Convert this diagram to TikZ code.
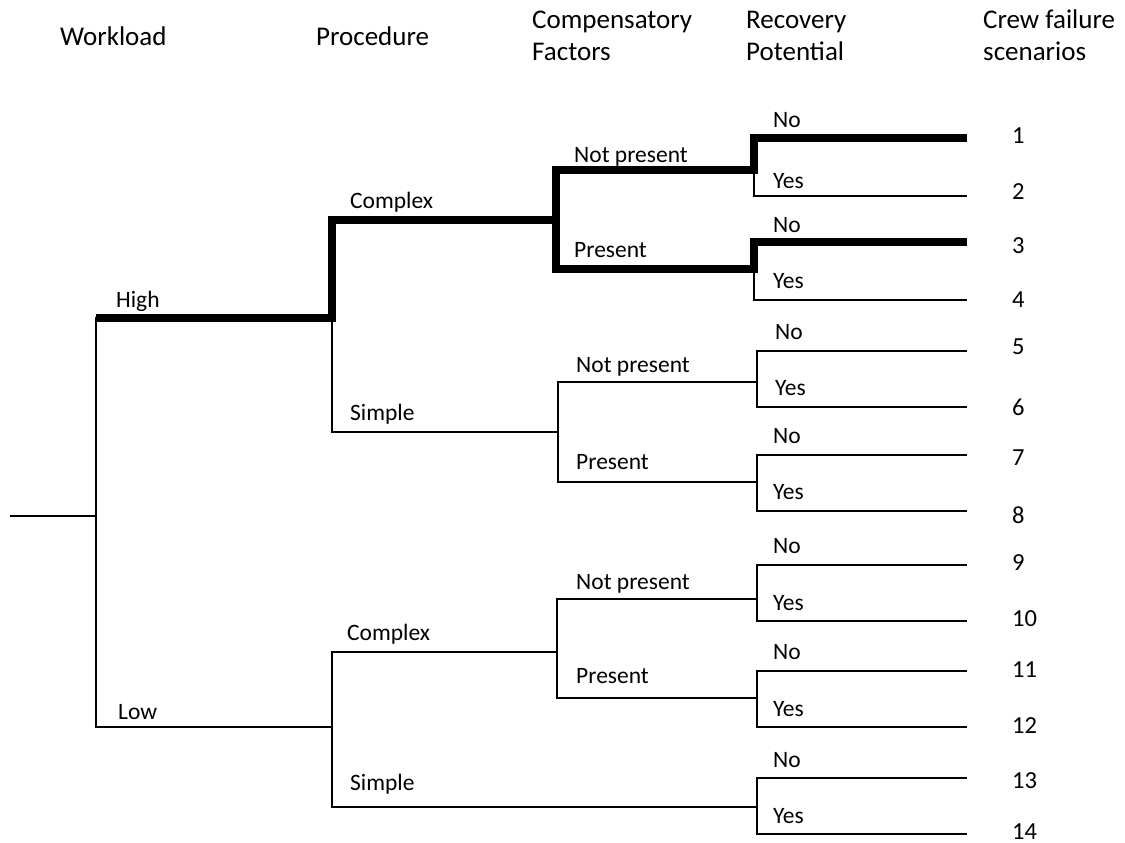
\documentclass[tikz,border=0pt]{standalone}
\usepackage{fontspec}
\setmainfont{Carlito}
\begin{document}
\begin{tikzpicture}[x=1pt,y=-1pt,
  hdr/.style={anchor=base west,inner sep=0pt,font={\fontsize{27}{32}\selectfont}},
  lbl/.style={anchor=base west,inner sep=0pt,font={\fontsize{23.5}{28}\selectfont}},
  num/.style={anchor=base west,inner sep=0pt,font={\fontsize{24.5}{28}\selectfont}},
  thinline/.style={line width=1.8pt,line join=miter},
  thickline/.style={line width=7.5pt,line join=miter}]
\useasboundingbox (0,0) rectangle (1125,843);
% split points
\coordinate (root) at (10,516);
\coordinate (w) at (96,516);
\coordinate (hi) at (332,318);
\coordinate (lo) at (332,727);
\coordinate (hc) at (556,220);
\coordinate (hs) at (558,432);
\coordinate (lc) at (557,652);
\coordinate (ls) at (757,807);
\coordinate (hcn) at (754,170);
\coordinate (hcp) at (754,269);
\coordinate (hsn) at (757,382);
\coordinate (hsp) at (757,482);
\coordinate (lcn) at (757,599);
\coordinate (lcp) at (757,698);
% leaf ends
\coordinate (e1) at (967,138);
\coordinate (e2) at (967,196);
\coordinate (e3) at (967,242);
\coordinate (e4) at (967,300);
\coordinate (e5) at (967,351);
\coordinate (e6) at (967,407);
\coordinate (e7) at (967,455);
\coordinate (e8) at (967,511);
\coordinate (e9) at (967,565);
\coordinate (e10) at (967,621);
\coordinate (e11) at (967,671);
\coordinate (e12) at (967,727);
\coordinate (e13) at (967,778);
\coordinate (e14) at (967,834);
% thin tree
\draw[thinline] (root) -- (w);
\draw[thinline] (w) |- (hi);
\draw[thinline] (w) |- (lo);
\draw[thinline] (hi) |- (hc);
\draw[thinline] (hi) |- (hs);
\draw[thinline] (lo) |- (lc);
\draw[thinline] (lo) |- (ls);
\draw[thinline] (hc) |- (hcn);
\draw[thinline] (hc) |- (hcp);
\draw[thinline] (hs) |- (hsn);
\draw[thinline] (hs) |- (hsp);
\draw[thinline] (lc) |- (lcn);
\draw[thinline] (lc) |- (lcp);
\draw[thinline] (hcn) |- (e1);
\draw[thinline] (hcn) |- (e2);
\draw[thinline] (hcp) |- (e3);
\draw[thinline] (hcp) |- (e4);
\draw[thinline] (hsn) |- (e5);
\draw[thinline] (hsn) |- (e6);
\draw[thinline] (hsp) |- (e7);
\draw[thinline] (hsp) |- (e8);
\draw[thinline] (lcn) |- (e9);
\draw[thinline] (lcn) |- (e10);
\draw[thinline] (lcp) |- (e11);
\draw[thinline] (lcp) |- (e12);
\draw[thinline] (ls) |- (e13);
\draw[thinline] (ls) |- (e14);
% highlighted paths
\draw[thickline] (w |- hi) -- (hi) |- (hc) |- (hcn) |- (e1);
\draw[thickline] (hc) |- (hcp) |- (e3);
% headers
\node[hdr] (hWork) at (60,46) {Workload};
\node[hdr] (hProc) at (316,46) {Procedure};
\node[hdr] (hComp1) at (532,29) {Compensatory};
\node[hdr] (hComp2) at (532,61) {Factors};
\node[hdr] (hRec1) at (746,29) {Recovery};
\node[hdr] (hRec2) at (746,61) {Potential};
\node[hdr] (hCrew1) at (983,29) {Crew failure};
\node[hdr] (hCrew2) at (983,61) {scenarios};
% branch labels
\node[lbl] (lHigh) at (116,307) {High};
\node[lbl] (lLow) at (118,719) {Low};
\node[lbl] (lHC) at (350,208) {Complex};
\node[lbl] (lHS) at (350,420) {Simple};
\node[lbl] (lLC) at (347,640) {Complex};
\node[lbl] (lLS) at (350,790) {Simple};
\node[lbl] (lHCN) at (574,162) {Not present};
\node[lbl] (lHCP) at (574,257) {Present};
\node[lbl] (lHSN) at (576,372) {Not present};
\node[lbl] (lHSP) at (576,469) {Present};
\node[lbl] (lLCN) at (576,589) {Not present};
\node[lbl] (lLCP) at (576,683) {Present};
\node[lbl] (r1) at (773,127) {No};
\node[lbl] (r2) at (773,188) {Yes};
\node[lbl] (r3) at (773,232) {No};
\node[lbl] (r4) at (773,288) {Yes};
\node[lbl] (r5) at (775,339) {No};
\node[lbl] (r6) at (775,395) {Yes};
\node[lbl] (r7) at (773,443) {No};
\node[lbl] (r8) at (773,499) {Yes};
\node[lbl] (r9) at (773,553) {No};
\node[lbl] (r10) at (773,610) {Yes};
\node[lbl] (r11) at (773,659) {No};
\node[lbl] (r12) at (773,716) {Yes};
\node[lbl] (r13) at (773,767) {No};
\node[lbl] (r14) at (773,823) {Yes};
% scenario numbers
\node[num] (n1) at (1012,143) {1};
\node[num] (n2) at (1012,199) {2};
\node[num] (n3) at (1012,253) {3};
\node[num] (n4) at (1012,307) {4};
\node[num] (n5) at (1012,354) {5};
\node[num] (n6) at (1012,415) {6};
\node[num] (n7) at (1012,465) {7};
\node[num] (n8) at (1012,523) {8};
\node[num] (n9) at (1012,570) {9};
\node[num] (n10) at (1012,626) {10};
\node[num] (n11) at (1012,677) {11};
\node[num] (n12) at (1012,733) {12};
\node[num] (n13) at (1012,788) {13};
\node[num] (n14) at (1012,839) {14};
\end{tikzpicture}
\end{document}
